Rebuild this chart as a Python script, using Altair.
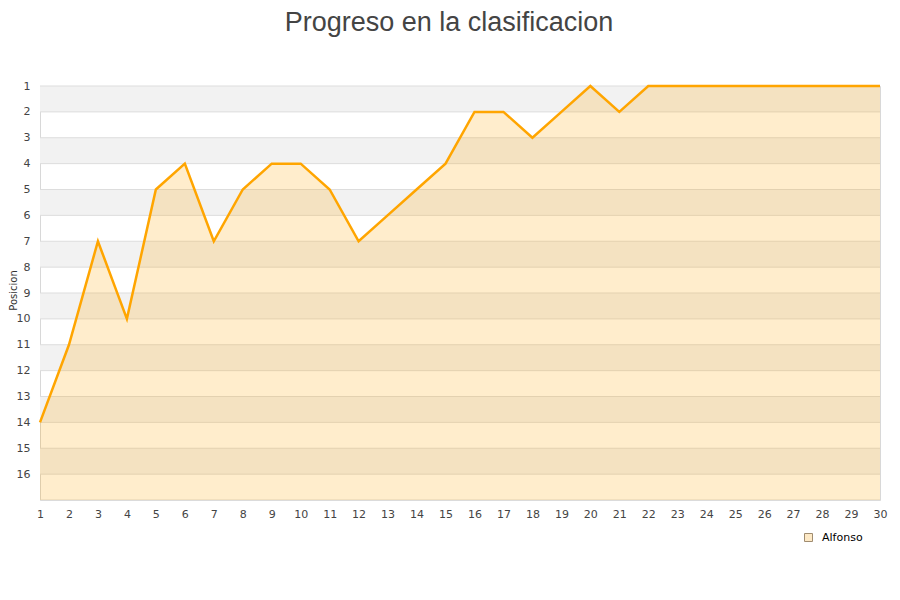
import altair as alt
import pandas as pd

rounds = list(range(1, 31))
positions = [14, 11, 7, 10, 5, 4, 7, 5, 4, 4, 5, 7, 6, 5, 4, 2, 2, 3, 2, 1, 2, 1, 1, 1, 1, 1, 1, 1, 1, 1]
player = "Alfonso"
band_starts = [1, 3, 5, 7, 9, 11, 13, 15]
y_ticks = list(range(1, 17))
y_grid = list(range(1, 18))

df = pd.DataFrame({"jornada": rounds, "pos": positions, "jugador": [player] * len(rounds)})
bands = pd.DataFrame({"y1": band_starts, "y2": [b + 1 for b in band_starts]})

xscale = alt.Scale(domain=[1, 30], nice=False, zero=False)
yscale = alt.Scale(domain=[1, 17], reverse=True, nice=False, zero=False)

yaxis = alt.Axis(values=y_ticks, title="Posicion", grid=False, ticks=False, domain=False,
                 labelPadding=10, labelFontSize=11, labelColor="#444", labelFont="DejaVu Sans",
                 titleFontSize=10, titleFont="DejaVu Sans", titleColor="#333",
                 titleFontWeight="normal", titleX=-27, titleY=204, titleAngle=270,
                 titleAlign="center", titleBaseline="middle")
xaxis = alt.Axis(values=rounds, title=None, grid=False, ticks=False, domain=False,
                 labelPadding=8, labelFontSize=11, labelColor="#444", labelFont="DejaVu Sans",
                 labelFlush=False, labelOverlap=False)

band_layer = alt.Chart(bands).mark_rect(color="#f2f2f2").encode(
    x=alt.value(0), x2=alt.value(840),
    y=alt.Y("y1:Q", scale=yscale, axis=yaxis),
    y2="y2:Q",
)

grid_layer = alt.Chart(pd.DataFrame({"g": y_grid})).mark_rule(color="#dddddd", strokeWidth=1).encode(
    y=alt.Y("g:Q", scale=yscale, axis=yaxis),
    x=alt.value(0), x2=alt.value(840),
)

area_layer = alt.Chart(df).mark_area(color="orange", opacity=0.2, interpolate="linear").encode(
    x=alt.X("jornada:Q", scale=xscale, axis=xaxis),
    y=alt.Y("pos:Q", scale=yscale, axis=yaxis),
    y2=alt.datum(17),
)

line_layer = alt.Chart(df).mark_line(color="orange", strokeWidth=2.5).encode(
    x=alt.X("jornada:Q", scale=xscale, axis=xaxis),
    y=alt.Y("pos:Q", scale=yscale, axis=yaxis),
)

legend = alt.Legend(title=None, orient="none", legendX=763, legendY=446,
                    symbolType="square", symbolSize=64, symbolStrokeWidth=1,
                    labelFontSize=11, labelFont="DejaVu Sans", labelColor="#000", labelOffset=8)

legend_layer = alt.Chart(df).mark_point(shape="square", filled=True, size=0, opacity=1).encode(
    x=alt.X("jornada:Q", scale=xscale, axis=xaxis),
    y=alt.Y("pos:Q", scale=yscale, axis=yaxis),
    fill=alt.Fill("jugador:N", scale=alt.Scale(range=["#fde9c6"]), legend=legend),
    stroke=alt.Stroke("jugador:N", scale=alt.Scale(range=["#a08c70"]), legend=legend),
)

chart = alt.layer(band_layer, grid_layer, area_layer, line_layer, legend_layer).properties(
    width=840, height=414,
    title=alt.TitleParams("Progreso en la clasificacion", fontSize=27, font="Liberation Sans",
                          fontWeight="normal", color="#444", anchor="middle", offset=43, dx=-11),
    autosize=alt.AutoSizeParams(type="none"),
    padding={"left": 32, "top": 78, "right": 12, "bottom": 92},
).configure_view(stroke="#d8d8d8", strokeWidth=1)

chart.save("out.html", embed_options={"renderer": "svg", "actions": False})
